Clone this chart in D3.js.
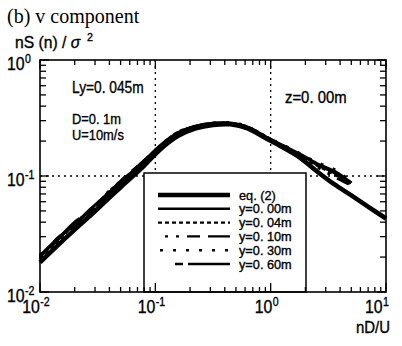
<!DOCTYPE html>
<html>
<head>
<meta charset="utf-8">
<script src="https://cdn.jsdelivr.net/npm/d3@7"></script>
<style>
  html, body { margin: 0; padding: 0; background: #fff; }
  svg { display: block; }
  .sans { font-family: "Liberation Sans", Arial, sans-serif; fill: #000; stroke: #000; stroke-width: 0.35; }
  .serif { font-family: "Liberation Serif", "Times New Roman", serif; fill: #000; }
</style>
</head>
<body>
<svg id="chart" width="402" height="346"></svg>
<script>
// Normalised v-component spectra nS(n)/sigma^2 against reduced frequency nD/U

// reduced frequency nD/U for the fitted curve
const eqFreq = [0.01, 0.0141, 0.02, 0.0282, 0.0398, 0.0562, 0.0794, 0.112, 0.158, 0.224,
                0.316, 0.447, 0.631, 0.891, 1.26, 1.78, 2.51, 3.55, 5.01, 7.08, 10];
const eqValues = [0.0180, 0.0250, 0.0345, 0.047, 0.065, 0.089, 0.122, 0.172, 0.222, 0.258,
                  0.276, 0.279, 0.258, 0.214, 0.178, 0.145, 0.110, 0.085, 0.068, 0.054, 0.043];

// reduced frequency nD/U for the measured spectra
const measFreq = [0.01, 0.0141, 0.02, 0.0282, 0.0398, 0.0562, 0.0794, 0.112, 0.158, 0.224,
                  0.316, 0.447, 0.631, 0.891, 1.26, 1.78, 2.51, 3.55, 5.01];
const measY000 = [0.0205, 0.0285, 0.0385, 0.053, 0.072, 0.098, 0.134, 0.185, 0.236, 0.268,
                  0.284, 0.286, 0.263, 0.219, 0.184, 0.155, 0.128, 0.110, 0.087];
const measY004 = [0.0198, 0.0272, 0.0392, 0.051, 0.0735, 0.0975, 0.131, 0.182, 0.239, 0.266,
                  0.282, 0.284, 0.265, 0.221, 0.182, 0.152, 0.124, 0.104, 0.085];
const measY010 = [0.0192, 0.0290, 0.0372, 0.0535, 0.070, 0.0962, 0.135, 0.180, 0.232, 0.270,
                  0.281, 0.283, 0.260, 0.216, 0.180, 0.150, 0.120, 0.099, 0.083];
const measY030 = [0.0210, 0.0270, 0.0380, 0.0520, 0.0742, 0.099, 0.130, 0.186, 0.236, 0.266,
                  0.286, 0.288, 0.266, 0.220, 0.186, 0.157, 0.131, 0.114, 0.089];
const measY060 = [0.0202, 0.0280, 0.0400, 0.0500, 0.0712, 0.1005, 0.133, 0.181, 0.234, 0.268,
                  0.284, 0.282, 0.261, 0.217, 0.181, 0.153, 0.126, 0.107, 0.086];

const seriesNames = ["eq. (2)", "y=0. 00m", "y=0. 04m", "y=0. 10m", "y=0. 30m", "y=0. 60m"];
const xTickExponents = ["-2", "-1", "0", "1"];
const yTickExponents = ["0", "-1", "-2"];
const xDecades = [0.01, 0.1, 1, 10];
const yDecades = [1, 0.1, 0.01];
const titleText = "(b) v component";
const xTitle = "nD/U";
const notes = ["Ly=0. 045m", "D=0. 1m", "U=10m/s", "z=0. 00m"];

const svg = d3.select("#chart");
const plotL = 40, plotR = 386, plotT = 60, plotB = 292;

const x = d3.scaleLog().domain([0.01, 10]).range([plotL, plotR]);
const y = d3.scaleLog().domain([0.01, 1]).range([plotB, plotT]);

// sans text drawn slightly condensed, with optional superscript tail
function sansText(parent, px, py, main, sup, opts = {}) {
  const size = opts.size || 16;
  const sx = opts.sx || 0.88;
  const g = parent.append("g").attr("transform", `translate(${px},${py}) scale(${sx},1)`);
  const t = g.append("text").attr("class", "sans")
    .attr("font-size", size)
    .attr("text-anchor", opts.anchor || "start")
    .text(main);
  if (sup) {
    t.append("tspan").attr("font-size", Math.round(size * 0.64))
      .attr("dy", -size * 0.38).attr("dx", opts.supDx || 0.5).text(sup);
  }
  return t;
}

// dotted reference lines at the decades
const grid = svg.append("g").attr("stroke", "#000").attr("stroke-width", 1.3)
  .attr("stroke-dasharray", "2,4").attr("fill", "none");
[0.1, 1].forEach(v => grid.append("line")
  .attr("x1", x(v)).attr("x2", x(v)).attr("y1", plotT).attr("y2", plotB));
grid.append("line").attr("x1", plotL).attr("x2", plotR).attr("y1", y(0.1)).attr("y2", y(0.1));

// curves
const line = d3.line().x(d => x(d[0])).y(d => y(d[1])).curve(d3.curveCatmullRom.alpha(0.5));

const measured = [measY000, measY004, measY010, measY030, measY060];
const styles = [
  { w: 4.6, dash: null },
  { w: 2.4, dash: null },
  { w: 2.4, dash: "4,3" },
  { w: 2.4, dash: "3,8,3,8,13,8,22,20" },
  { w: 2.4, dash: "3,10" },
  { w: 2.6, dash: "8,5,42,8" }
];
const plotWidths = [4.6, 3.2, 3.0, 3.0, 3.0, 3.2];

const curves = svg.append("g").attr("fill", "none").attr("stroke", "#000")
  .attr("stroke-linejoin", "round");
measured.forEach((vals, i) => {
  curves.append("path")
    .datum(measFreq.map((f, k) => [f, vals[k]]))
    .attr("d", line)
    .attr("stroke-width", plotWidths[i + 1])
    .attr("stroke-dasharray", styles[i + 1].dash);
});
curves.append("path")
  .datum(eqFreq.map((f, k) => [f, eqValues[k]]))
  .attr("d", line)
  .attr("stroke-width", plotWidths[0]);

// legend box
const lg = { x0: 144, y0: 173, x1: 306, y1: plotB };
svg.append("rect").attr("x", lg.x0).attr("y", lg.y0)
  .attr("width", lg.x1 - lg.x0).attr("height", lg.y1 - lg.y0)
  .attr("fill", "#fff").attr("stroke", "#000").attr("stroke-width", 1.5);

const legendStarts = [158, 158, 158, 165, 160, 175];
seriesNames.forEach((name, i) => {
  const ly = 195 + i * 13.8;
  svg.append("line")
    .attr("x1", legendStarts[i]).attr("x2", 230).attr("y1", ly).attr("y2", ly)
    .attr("stroke", "#000").attr("stroke-width", styles[i].w)
    .attr("stroke-dasharray", styles[i].dash);
  sansText(svg, 239, ly + 4.5, name, null, { size: 12.5, sx: 1.02 });
});

// frame
svg.append("rect").attr("x", plotL).attr("y", plotT)
  .attr("width", plotR - plotL).attr("height", plotB - plotT)
  .attr("fill", "none").attr("stroke", "#000").attr("stroke-width", 1.6);

// inward log ticks on all four sides
const ticks = svg.append("g").attr("stroke", "#000").attr("stroke-width", 1.3);
function logTicks(lo, hi) {
  const out = [];
  for (let d = lo; d < hi * 1.0001; d *= 10) {
    for (let m = 1; m <= 9; m++) {
      const v = d * m;
      if (v > hi * 1.0001) break;
      out.push({ v, major: m === 1 });
    }
  }
  return out;
}
logTicks(0.01, 10).forEach(t => {
  const len = t.major ? 9 : 5;
  const px = x(t.v);
  ticks.append("line").attr("x1", px).attr("x2", px).attr("y1", plotB).attr("y2", plotB - len);
  ticks.append("line").attr("x1", px).attr("x2", px).attr("y1", plotT).attr("y2", plotT + len);
});
logTicks(0.01, 1).forEach(t => {
  const len = t.major ? 9 : 6;
  const py = y(t.v);
  ticks.append("line").attr("x1", plotL).attr("x2", plotL + len).attr("y1", py).attr("y2", py);
  ticks.append("line").attr("x1", plotR).attr("x2", plotR - len).attr("y1", py).attr("y2", py);
});

// tick labels
xDecades.forEach((v, i) => {
  const shift = i === xDecades.length - 1 ? -9 : -4;
  sansText(svg, x(v) + shift, 313, "10", xTickExponents[i], { size: 18, sx: 0.88, anchor: "middle" });
});
yDecades.forEach((v, i) => {
  sansText(svg, 7, y(v) + 10, "10", yTickExponents[i], { size: 18, sx: 0.88 });
});

// axis titles
sansText(svg, 390, 333, xTitle, null, { size: 17, sx: 0.88, anchor: "end" });
const yt = svg.append("g").attr("transform", "translate(15,48) scale(0.98,1)")
  .append("text").attr("class", "sans").attr("font-size", 16);
yt.append("tspan").text("nS (n) / ");
yt.append("tspan").attr("font-style", "italic").text("σ");
yt.append("tspan").attr("font-size", 11).attr("dy", -7).attr("dx", 7).text("2");

// title
svg.append("text").attr("class", "serif").attr("x", 7).attr("y", 23)
  .attr("font-size", 20).text(titleText);

// annotations
sansText(svg, 72, 93, notes[0], null, { size: 16, sx: 0.86 });
sansText(svg, 72, 124, notes[1], null, { size: 14, sx: 0.92 });
sansText(svg, 72, 140, notes[2], null, { size: 14, sx: 0.92 });
sansText(svg, 285, 103, notes[3], null, { size: 16, sx: 0.93 });
</script>
</body>
</html>
